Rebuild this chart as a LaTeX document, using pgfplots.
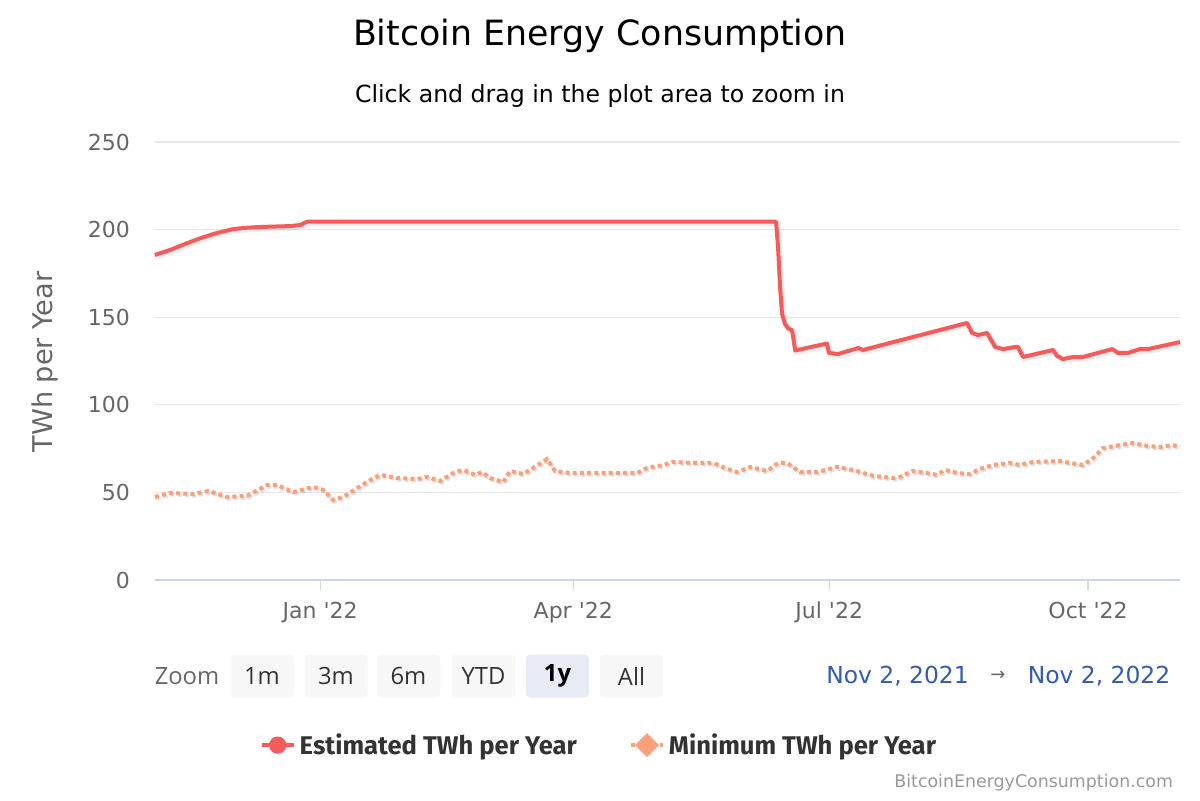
\documentclass[border=0pt]{standalone}
\usepackage{fontspec}
\setmainfont{DejaVu Sans}
\newfontfamily\fira{Fira Sans}
\newfontfamily\opensans{Open Sans}
\usepackage{pgfplots}
\usepackage{pgfplotstable}
\pgfplotsset{compat=1.18}
\definecolor{estred}{RGB}{244,91,91}
\definecolor{minsal}{RGB}{250,160,122}
\definecolor{gridc}{RGB}{230,230,230}
\definecolor{axisc}{RGB}{204,214,235}
\definecolor{tickc}{RGB}{102,102,102}
\definecolor{txtc}{RGB}{51,51,51}
\definecolor{rangeblue}{RGB}{51,92,173}
\definecolor{btnfill}{RGB}{247,247,247}
\definecolor{btnsel}{RGB}{230,235,245}
\definecolor{credc}{RGB}{153,153,153}

% day 0 = 1 Jan 2022
\pgfplotstableread{
x y
-58.7 185.5
-53.3 188.4
-48.0 191.8
-42.7 195.0
-37.3 197.8
-30.9 200.3
-26.7 201.0
-21.3 201.5
-10.7 202.0
-7.1 202.6
-4.6 204.5
162.1 204.5
162.8 190.0
163.5 168.0
164.2 152.0
165.3 146.0
166.5 143.5
167.8 142.5
168.9 131.0
180.2 135.0
180.9 129.6
184.1 129.0
191.3 132.4
193.0 131.3
230.0 146.7
231.8 141.0
233.9 139.8
237.1 141.0
240.0 133.0
242.8 131.8
247.1 133.0
248.1 133.0
249.9 127.3
260.6 131.3
262.0 127.9
264.1 126.1
267.7 127.3
271.2 127.3
281.6 131.8
283.7 129.6
287.2 129.6
291.5 131.8
294.3 131.8
305.7 135.8
}\estdata

\pgfplotstableread{
x y
-58.7 47.4
-53.3 49.7
-45.1 49.0
-39.8 50.8
-33.1 47.4
-26.0 48.0
-18.8 54.2
-15.3 54.2
-9.6 50.2
-2.5 53.1
1.1 51.4
4.6 45.7
8.2 47.4
13.2 52.5
17.8 57.0
21.3 60.0
27.4 58.2
34.5 57.6
38.0 58.8
42.7 56.5
47.3 61.0
50.8 62.8
55.1 60.0
57.6 61.6
60.4 58.2
65.1 55.9
67.5 62.2
72.2 60.5
75.7 63.9
80.7 69.0
83.5 62.2
88.9 61.0
96.0 61.0
105.6 61.0
112.7 61.0
116.2 63.9
121.9 65.6
125.5 67.4
132.6 66.8
139.7 66.8
144.7 63.4
148.2 61.6
152.9 64.5
158.9 62.2
162.8 66.8
166.0 66.8
170.6 61.6
176.7 61.6
183.8 64.5
189.5 62.8
196.6 59.4
203.7 58.2
206.2 58.8
210.5 62.2
215.8 61.0
219.3 60.0
222.2 62.8
226.8 61.0
231.1 60.5
234.6 63.4
239.2 65.6
245.3 66.8
248.8 65.6
253.5 67.4
263.1 67.9
266.6 66.8
271.2 65.6
274.8 69.6
278.3 75.3
284.4 77.0
289.0 78.2
294.0 76.5
298.6 75.9
302.9 77.0
305.7 76.0
}\mindata

\begin{document}
\begin{tikzpicture}
\path[fill=white] (0pt,0pt) rectangle (600pt,400pt);
\node[font=\fontsize{17.4}{20}\selectfont, text=black] at (300pt,382pt) {Bitcoin Energy Consumption};
\node[font=\fontsize{11.8}{14}\selectfont, text=black] at (300pt,352pt) {Click and drag in the plot area to zoom in};
\node[rotate=90, font=\fontsize{13.6}{16}\selectfont, text=tickc] at (22.5pt,219pt) {TWh per Year};

\begin{axis}[
  at={(77.5pt,110pt)}, anchor=south west,
  scale only axis, width=512.5pt, height=219pt,
  xmin=-58.7, xmax=305.7, ymin=0, ymax=250,
  ytick={0,50,...,250},
  xtick={0,90,181,273},
  xticklabels={Jan \textquotesingle22, Apr \textquotesingle22, Jul \textquotesingle22, Oct \textquotesingle22},
  ymajorgrids, grid style={gridc, line width=0.6pt},
  axis x line*=bottom, axis y line*=left,
  x axis line style={axisc, line width=0.6pt, -},
  y axis line style={draw=none},
  ytick style={draw=none},
  xtick style={axisc, line width=0.6pt},
  xtick align=outside, major tick length=5pt,
  /pgf/number format/assume math mode=true,
  tick label style={font=\fontsize{11}{13}\selectfont, text=tickc},
  yticklabel style={xshift=-9pt},
  xticklabel style={yshift=-2.5pt},
  legend style={at={(axis description cs:0.434,-0.377)}, anchor=center, draw=none, fill=none,
    font=\fira\bfseries\fontsize{12.8}{15}\selectfont, text=txtc,
    /tikz/every even column/.append style={column sep=24pt}},
  legend columns=2,
  clip=false,
]
\addplot[forget plot, black, opacity=0.07, line width=3pt, xshift=0.8pt, yshift=-0.8pt] table[x=x,y=y] {\estdata};
\addplot[estred, line width=2pt, line join=round,
  legend image code/.code={\draw[estred, line width=2pt] (0pt,0pt) -- (16pt,0pt); \fill[estred] (8pt,0pt) circle (3.3pt);}
] table[x=x,y=y] {\estdata};
\addlegendentry{Estimated TWh per Year}
\addplot[forget plot, black, opacity=0.12, line width=2pt, dash pattern=on 2pt off 1.6pt, xshift=0.8pt, yshift=-0.8pt] table[x=x,y=y] {\mindata};
\addplot[minsal, line width=2pt, dash pattern=on 2pt off 1.6pt,
  legend image code/.code={\draw[minsal, line width=2pt, dash pattern=on 2pt off 1.6pt] (0pt,0pt) -- (16pt,0pt); \fill[minsal, solid] (8pt,4.6pt) -- (12.6pt,0pt) -- (8pt,-4.6pt) -- (3.4pt,0pt) -- cycle;}
] table[x=x,y=y] {\mindata};
\addlegendentry{Minimum TWh per Year}
\end{axis}

% range selector
\node[font=\opensans\fontsize{11.9}{14}\selectfont, text=tickc] at (93.5pt,62pt) {Zoom};
\tikzset{btn/.style={fill=btnfill, rounded corners=2pt, minimum width=31.5pt, minimum height=21.5pt, inner sep=0pt, font=\opensans\fontsize{11.9}{14}\selectfont, text=txtc}}
\node[btn] at (131pt,62pt) {1m};
\node[btn] at (168pt,62pt) {3m};
\node[btn] at (204.25pt,62pt) {6m};
\node[btn] at (241.75pt,62pt) {YTD};
\node[btn, fill=btnsel, text=black, font=\opensans\bfseries\fontsize{11.9}{14}\selectfont] at (278.75pt,62pt) {1y};
\node[btn] at (315.75pt,62pt) {All};
\node[font=\fontsize{11.7}{14}\selectfont, text=rangeblue] at (448.75pt,62pt) {Nov 2, 2021};
\node[font=\fontsize{9}{11}\selectfont, text=tickc] at (499pt,62pt) {→};
\node[font=\fontsize{11.7}{14}\selectfont, text=rangeblue] at (549.5pt,62pt) {Nov 2, 2022};
\node[anchor=east, font=\fontsize{8.7}{10}\selectfont, text=credc] at (590pt,8.5pt) {BitcoinEnergyConsumption.com};
\end{tikzpicture}
\end{document}
